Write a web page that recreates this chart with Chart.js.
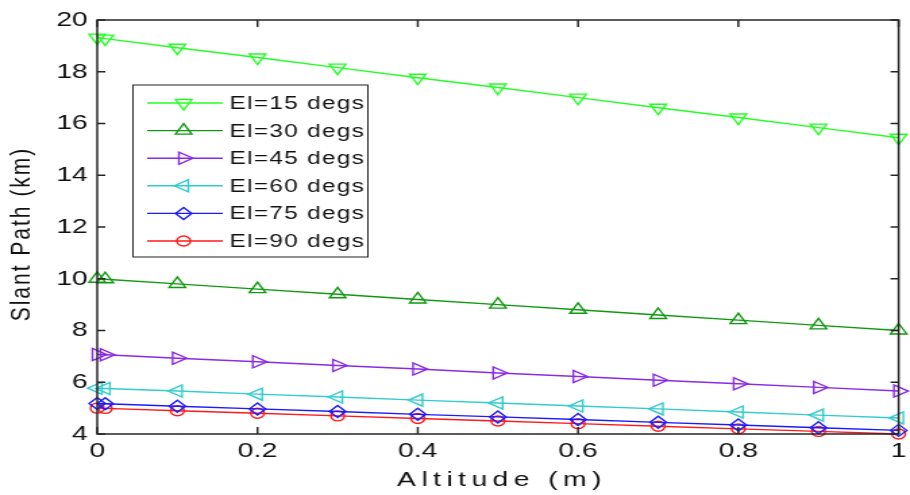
<!DOCTYPE html>
<html>
<head>
<meta charset="utf-8">
<script src="https://cdn.jsdelivr.net/npm/chart.js@4.4.1/dist/chart.umd.min.js"></script>
<style>
  html, body { margin: 0; padding: 0; background: #fff; overflow: hidden; }
  #wrap { width: 674px; height: 495px; transform: scaleX(1.3501); transform-origin: 0 0; }
  canvas { display: block; }
</style>
</head>
<body>
<div id="wrap"><canvas id="c" width="674" height="495"></canvas></div>
<script>
// ---- data ----
const altitudes = [0, 0.01, 0.1, 0.2, 0.3, 0.4, 0.5, 0.6, 0.7, 0.8, 0.9, 1];
const el15 = [19.32, 19.28, 18.93, 18.55, 18.16, 17.77, 17.39, 17.00, 16.61, 16.23, 15.84, 15.45];
const el30 = [10.00, 9.98, 9.80, 9.60, 9.40, 9.20, 9.00, 8.80, 8.60, 8.40, 8.20, 8.00];
const el45 = [7.07, 7.06, 6.93, 6.79, 6.65, 6.51, 6.36, 6.22, 6.08, 5.94, 5.80, 5.66];
const el60 = [5.77, 5.76, 5.66, 5.54, 5.43, 5.31, 5.20, 5.08, 4.97, 4.85, 4.73, 4.62];
const el75 = [5.18, 5.17, 5.07, 4.97, 4.87, 4.76, 4.66, 4.56, 4.45, 4.35, 4.24, 4.14];
const el90 = [5.00, 4.99, 4.90, 4.80, 4.70, 4.60, 4.50, 4.40, 4.30, 4.20, 4.10, 4.00];
const seriesLabels = ['El=15 degs', 'El=30 degs', 'El=45 degs', 'El=60 degs', 'El=75 degs', 'El=90 degs'];
const xTickValues = [0, 0.2, 0.4, 0.6, 0.8, 1];
const xTickLabels = ['0', '0.2', '0.4', '0.6', '0.8', '1'];
const yTickValues = [4, 6, 8, 10, 12, 14, 16, 18, 20];
const yTickLabels = ['4', '6', '8', '10', '12', '14', '16', '18', '20'];
const xTitle = 'Altitude (m)';
const yTitle = 'Slant Path (km)';

const seriesData = [el15, el30, el45, el60, el75, el90];
const colors = ['#22ff22', '#119911', '#8a2be2', '#33cccc', '#1a1aff', '#ff1a1a'];
const styles = [
  { pointStyle: 'triangle', rotation: 180, radius: 7 },
  { pointStyle: 'triangle', rotation: 0, radius: 7 },
  { pointStyle: 'triangle', rotation: 90, radius: 7 },
  { pointStyle: 'triangle', rotation: 270, radius: 7 },
  { pointStyle: 'rectRot', rotation: 0, radius: 6 },
  { pointStyle: 'circle', rotation: 0, radius: 5 }
];
const FONT = "'Liberation Sans', Arial, sans-serif";

const datasets = seriesData.map((vals, i) => ({
  label: seriesLabels[i],
  data: altitudes.map((a, j) => ({ x: a, y: vals[j] })),
  borderColor: colors[i],
  backgroundColor: 'rgba(0,0,0,0)',
  borderWidth: 1.4,
  pointStyle: styles[i].pointStyle,
  pointRotation: styles[i].rotation,
  pointRadius: styles[i].radius,
  pointBorderWidth: 1.4,
  pointBorderColor: colors[i],
  pointBackgroundColor: 'rgba(0,0,0,0)',
  tension: 0,
  clip: false
}));

function drawMarker(ctx, st, color, x, y) {
  ctx.save();
  ctx.strokeStyle = color;
  ctx.fillStyle = 'rgba(0,0,0,0)';
  ctx.lineWidth = 1.4;
  Chart.helpers.drawPoint(ctx, { pointStyle: st.pointStyle, rotation: st.rotation, radius: st.radius, borderWidth: 1.4 }, x, y);
  ctx.restore();
}

const framePlugin = {
  id: 'frame',
  afterDraw(chart) {
    const ctx = chart.ctx;
    const a = chart.chartArea;
    const xs = chart.scales.x, ys = chart.scales.y;
    ctx.save();
    ctx.strokeStyle = '#262626';
    ctx.lineWidth = 1.5;
    ctx.strokeRect(a.left, a.top, a.right - a.left, a.bottom - a.top);
    ctx.beginPath();
    xTickValues.forEach(v => {
      const px = xs.getPixelForValue(v);
      ctx.moveTo(px, a.bottom); ctx.lineTo(px, a.bottom - 7);
      ctx.moveTo(px, a.top); ctx.lineTo(px, a.top + 7);
    });
    yTickValues.forEach(v => {
      const py = ys.getPixelForValue(v);
      ctx.moveTo(a.left, py); ctx.lineTo(a.left + 6, py);
      ctx.moveTo(a.right, py); ctx.lineTo(a.right - 6, py);
    });
    ctx.stroke();

    // axis titles
    ctx.fillStyle = '#111';
    ctx.font = '21px ' + FONT;
    ctx.textAlign = 'center';
    ctx.textBaseline = 'middle';
    ctx.letterSpacing = '4px';
    ctx.fillText(xTitle, (a.left + a.right) / 2 + 3, 480);
    ctx.save();
    ctx.translate(16, 234);
    ctx.rotate(-Math.PI / 2);
    ctx.letterSpacing = '2px';
    ctx.fillText(yTitle, 0, 0);
    ctx.restore();
    ctx.letterSpacing = '0px';

    // legend
    const lx = 98.5, ly = 85, lw = 174, lh = 172;
    ctx.fillStyle = '#fff';
    ctx.fillRect(lx, ly, lw, lh);
    ctx.strokeStyle = '#222';
    ctx.lineWidth = 1;
    ctx.strokeRect(lx, ly, lw, lh);
    ctx.font = '18px ' + FONT;
    ctx.textAlign = 'left';
    ctx.letterSpacing = '1px';
    chart.data.datasets.forEach((ds, i) => {
      const ry = 103 + i * 27.6;
      ctx.strokeStyle = ds.borderColor;
      ctx.lineWidth = 1.4;
      ctx.beginPath();
      ctx.moveTo(109, ry); ctx.lineTo(165, ry);
      ctx.stroke();
      drawMarker(ctx, styles[i], ds.borderColor, 136, ry);
      ctx.fillStyle = '#111';
      ctx.fillText(ds.label, 170, ry + 1);
    });
    ctx.letterSpacing = '0px';
    ctx.restore();
  }
};

new Chart(document.getElementById('c'), {
  type: 'line',
  data: { datasets },
  options: {
    responsive: false,
    animation: false,
    devicePixelRatio: 1,
    layout: { padding: { top: 20, right: 5, left: 0, bottom: 0 } },
    plugins: { legend: { display: false }, tooltip: { enabled: false } },
    scales: {
      x: {
        type: 'linear', min: 0, max: 1,
        afterBuildTicks: s => { s.ticks = xTickValues.map(v => ({ value: v })); },
        ticks: {
          font: { family: FONT, size: 21 }, color: '#111', padding: 5, maxRotation: 0,
          callback: (v) => xTickLabels[xTickValues.indexOf(v)]
        },
        grid: { display: false, drawTicks: false },
        border: { display: false },
        afterFit: s => { s.height = 61; s.paddingLeft = 0; s.paddingRight = 0; }
      },
      y: {
        type: 'linear', min: 4, max: 20,
        afterBuildTicks: s => { s.ticks = yTickValues.map(v => ({ value: v })); },
        ticks: {
          font: { family: FONT, size: 21 }, color: '#111', padding: 7,
          callback: (v) => yTickLabels[yTickValues.indexOf(v)]
        },
        grid: { display: false, drawTicks: false },
        border: { display: false },
        afterFit: s => { s.width = 72; s.paddingTop = 0; s.paddingBottom = 0; }
      }
    }
  },
  plugins: [framePlugin]
});
</script>
</body>
</html>
